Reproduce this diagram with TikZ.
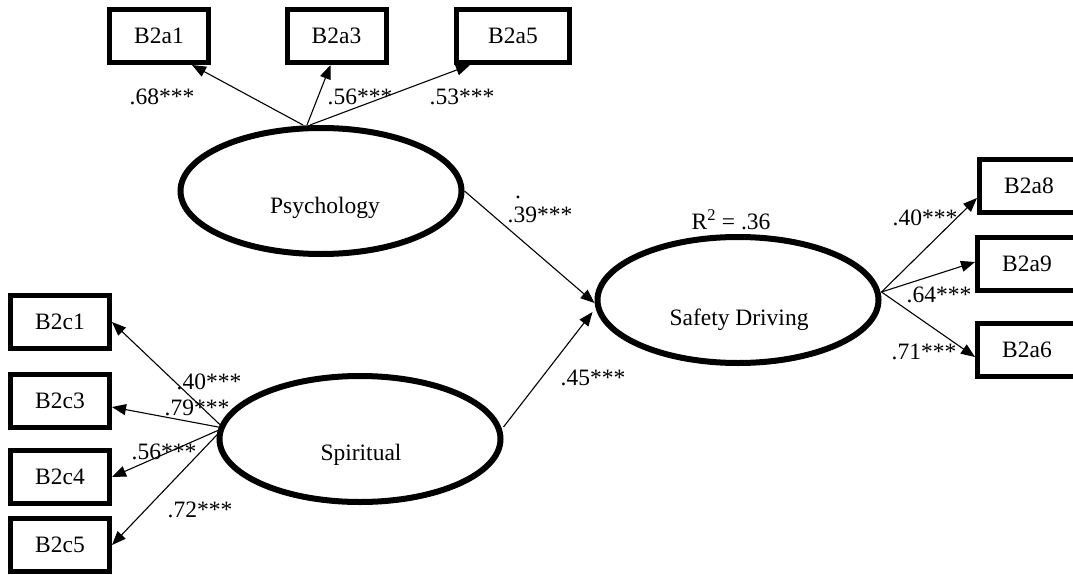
\documentclass[tikz,border=0pt]{standalone}
\usepackage{fontspec}
\setmainfont{Liberation Serif}
\usetikzlibrary{arrows.meta,shapes.geometric}
\begin{document}
\begin{tikzpicture}[x=1pt,y=-1pt,
  font=\fontsize{23.5}{28}\selectfont,
  obs/.style={draw,line width=5pt,minimum width=99pt,minimum height=53pt,inner sep=0pt,fill=white},
  lat/.style={draw,ellipse,line width=6pt,minimum width=281pt,minimum height=126pt,inner sep=0pt},
  arr/.style={line width=1.1pt,-{Triangle[length=14pt,width=11pt]}},
  coef/.style={inner sep=0pt}]
\useasboundingbox (0,0) rectangle (1073,575);
% observed boxes
\node[obs] (a1) at (159,36) {B2a1};
\node[obs] (a3) at (336.5,36) {B2a3};
\node[obs,minimum width=113pt] (a5) at (513,36) {B2a5};
\node[obs] (a8) at (1029,186) {B2a8};
\node[obs] (a9) at (1027,264) {B2a9};
\node[obs] (a6) at (1027,350) {B2a6};
\node[obs] (c1) at (60,322) {B2c1};
\node[obs] (c3) at (60,401) {B2c3};
\node[obs] (c4) at (60,477) {B2c4};
\node[obs] (c5) at (60,545) {B2c5};
% latent ellipses
\node[lat] (psy) at (321,191) {};
\node[lat] (sp) at (360,439) {};
\node[lat] (sd) at (738,300) {};
\node[anchor=base] (psyT) at (325,213) {Psychology};
\node[anchor=base] (spT) at (361,460) {Spiritual};
\node[anchor=base] (sdT) at (739,325) {Safety Driving};
% arrows
\draw[arr] ([xshift=-18pt]psy.north) -- ([xshift=33pt]a1.south);
\draw[arr] ([xshift=-14pt]psy.north) -- ([xshift=-6pt]a3.south);
\draw[arr] ([xshift=-11pt]psy.north) -- ([xshift=-43pt]a5.south);
\draw[arr] (psy.east) -- ([yshift=-3pt]sd.west);
\draw[arr] ([yshift=12pt]sp.east) -- ([shift={(-2pt,-12pt)}]sd.west);
\coordinate (sdr) at ([yshift=8pt]sd.east);
\draw[arr] (sdr) -- ([yshift=-12pt]a8.west);
\draw[arr] (sdr) -- ([yshift=2pt]a9.west);
\draw[arr] (sdr) -- ([yshift=-7pt]a6.west);
\coordinate (spl) at ([shift={(7pt,11pt)}]sp.west);
\draw[arr] (spl) -- (c1.east);
\draw[arr] (spl) -- ([yshift=-6pt]c3.east);
\draw[arr] (spl) -- (c4.east);
\draw[arr] (spl) -- (c5.east);
% coefficients
\node[coef] (l68) at (162,97) {.68***};
\node[coef] (l56a) at (360,97) {.56***};
\node[coef] (l53) at (462,97) {.53***};
\node[coef,anchor=base] (ldot) at (518,198) {.};
\node[coef] (l39) at (540,215) {.39***};
\node[coef] (r2) at (731,220) {R\textsuperscript{2} = .36};
\node[coef] (l45) at (593,378) {.45***};
\node[coef] (l40r) at (925,218) {.40***};
\node[coef] (l64) at (939,295) {.64***};
\node[coef] (l71) at (924,352) {.71***};
\node[coef] (l40l) at (209,382) {.40***};
\node[coef] (l79) at (197,408) {.79***};
\node[coef] (l56b) at (164,452) {.56***};
\node[coef] (l72) at (200,510) {.72***};
\end{tikzpicture}
\end{document}
